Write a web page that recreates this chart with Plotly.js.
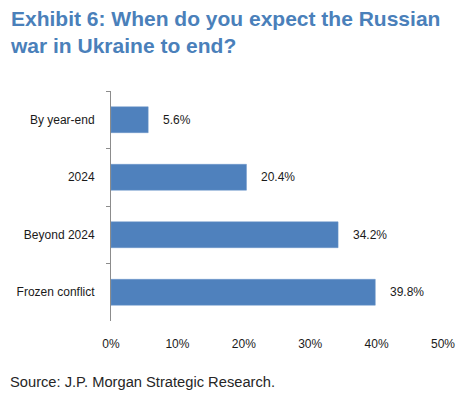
<!DOCTYPE html>
<html>
<head>
<meta charset="utf-8">
<script src="https://cdn.plot.ly/plotly-3.0.1.min.js"></script>
<style>html,body{margin:0;padding:0;background:#fff;}#chart{width:460px;height:393px;}</style>
</head>
<body>
<div id="chart"></div>
<script>
const categories = ["By year-end", "2024", "Beyond 2024", "Frozen conflict"];
const values = [5.6, 20.4, 34.2, 39.8];
const valueLabels = ["5.6%", "20.4%", "34.2%", "39.8%"];
const xTickValues = [0, 10, 20, 30, 40, 50];
const xTickLabels = ["0%", "10%", "20%", "30%", "40%", "50%"];

const font = "Arial, 'Liberation Sans', sans-serif";

const trace = {
  type: "bar",
  orientation: "h",
  y: categories,
  x: values,
  marker: {color: "#4F81BD", line: {color: "#6a95c8", width: 0.5}},
  hoverinfo: "none"
};

// annotations on a category axis are positioned by category index
const annotations = values.map((v, i) => ({
  x: v, y: i, xref: "x", yref: "y",
  text: valueLabels[i], showarrow: false,
  xanchor: "left", yanchor: "middle", xshift: 13,
  font: {family: font, size: 12, color: "#1a1a1a"}
}));

annotations.push({
  xref: "paper", yref: "paper",
  x: -0.31, y: -0.265, xanchor: "left", yanchor: "middle",
  text: "Source: J.P. Morgan Strategic Research.", showarrow: false,
  font: {family: font, size: 14.7, color: "#262626"}
});

annotations.push({
  xref: "paper", yref: "paper",
  x: -0.31, y: 1.372, xanchor: "left", yanchor: "top", align: "left",
  text: "<b>Exhibit 6: When do you expect the Russian<br>war in Ukraine to end?</b>",
  showarrow: false,
  font: {family: font, size: 21, color: "#4a80ba"}
});

const layout = {
  width: 460, height: 393,
  margin: {l: 111, r: 17, t: 91, b: 72},
  paper_bgcolor: "#ffffff", plot_bgcolor: "#ffffff",
  showlegend: false,
  bargap: 0.55,
  xaxis: {
    range: [0, 50],
    tickvals: xTickValues, ticktext: xTickLabels,
    showgrid: false, zeroline: false, showline: false, ticks: "",
    ticklabelstandoff: 14,
    tickfont: {family: font, size: 12, color: "#1a1a1a"},
    fixedrange: true
  },
  yaxis: {
    type: "category",
    categoryorder: "array", categoryarray: categories,
    range: [3.5, -0.5],
    showgrid: false, zeroline: false,
    showline: true, linecolor: "#8c8c8c", linewidth: 1,
    ticks: "outside", tickson: "boundaries", ticklen: 4, tickcolor: "#8c8c8c",
    ticklabelstandoff: 13,
    tickfont: {family: font, size: 12, color: "#1a1a1a"},
    fixedrange: true
  },
  annotations: annotations
};

Plotly.newPlot("chart", [trace], layout, {displayModeBar: false, staticPlot: true});
</script>
</body>
</html>
